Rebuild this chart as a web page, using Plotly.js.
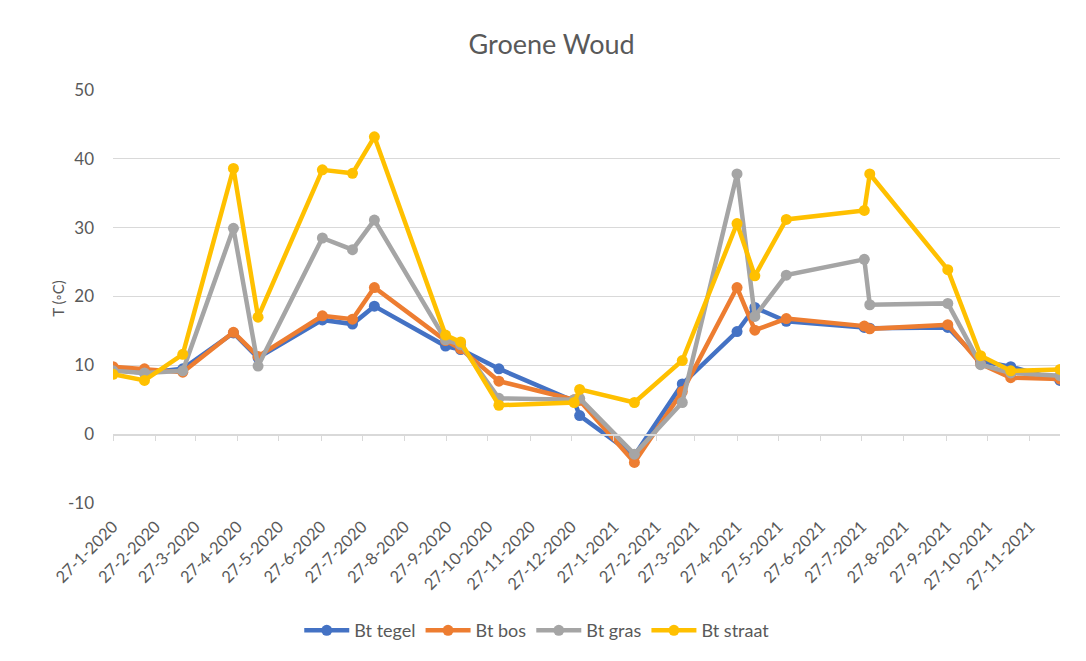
<!DOCTYPE html>
<html>
<head>
<meta charset="utf-8">
<script src="https://cdn.plot.ly/plotly-3.0.1.min.js"></script>
<style>
  html, body { margin: 0; padding: 0; background: #fff; }
  #plot { width: 1086px; height: 661px; }
</style>
</head>
<body>
<div id="plot"></div>
<script>
/* measurement dates */
var dates = ["2020-01-27", "2020-02-19", "2020-03-18", "2020-04-24", "2020-05-12",
             "2020-06-28", "2020-07-20", "2020-08-05", "2020-09-26", "2020-10-07",
             "2020-11-04", "2020-12-29", "2021-01-02", "2021-02-11", "2021-03-18",
             "2021-04-27", "2021-05-10", "2021-06-02", "2021-07-29", "2021-08-02",
             "2021-09-28", "2021-10-22", "2021-11-13", "2021-12-19"];

var tegel  = [9.4, 8.9, 9.5, 14.7, 11.1, 16.6, 16.0, 18.6, 12.8, 12.3, 9.5, 4.8,
              2.7, -3.1, 7.3, 14.9, 18.4, 16.4, 15.5, 15.4, 15.5, 10.6, 9.8, 7.8];
var bos    = [9.8, 9.5, 9.0, 14.8, 11.3, 17.2, 16.7, 21.3, 13.6, 12.4, 7.7, 5.0,
              4.9, -4.1, 6.2, 21.3, 15.1, 16.8, 15.7, 15.3, 15.9, 10.2, 8.2, 8.0];
var gras   = [9.2, 8.9, 9.2, 29.9, 9.9, 28.5, 26.8, 31.1, 13.7, 13.0, 5.2, 5.0,
              5.2, -2.9, 4.6, 37.8, 17.1, 23.1, 25.4, 18.8, 19.0, 10.1, 8.9, 8.5];
var straat = [8.7, 7.8, 11.6, 38.6, 17.0, 38.4, 37.9, 43.2, 14.4, 13.4, 4.2, 4.6,
              6.5, 4.6, 10.7, 30.6, 23.0, 31.2, 32.5, 37.8, 23.9, 11.4, 9.2, 9.4];

/* monthly ticks on the 27th */
var tickDates = ["2020-01-27", "2020-02-27", "2020-03-27", "2020-04-27", "2020-05-27",
                 "2020-06-27", "2020-07-27", "2020-08-27", "2020-09-27", "2020-10-27",
                 "2020-11-27", "2020-12-27", "2021-01-27", "2021-02-27", "2021-03-27",
                 "2021-04-27", "2021-05-27", "2021-06-27", "2021-07-27", "2021-08-27",
                 "2021-09-27", "2021-10-27", "2021-11-27"];
var tickLabels = ["27-1-2020", "27-2-2020", "27-3-2020", "27-4-2020", "27-5-2020",
                  "27-6-2020", "27-7-2020", "27-8-2020", "27-9-2020", "27-10-2020",
                  "27-11-2020", "27-12-2020", "27-1-2021", "27-2-2021", "27-3-2021",
                  "27-4-2021", "27-5-2021", "27-6-2021", "27-7-2021", "27-8-2021",
                  "27-9-2021", "27-10-2021", "27-11-2021"];

var yTicks  = [-10, 0, 10, 20, 30, 40, 50];
var yLabels = ["-10", "0", "10", "20", "30", "40", "50"];

var names  = ["Bt tegel", "Bt bos", "Bt gras", "Bt straat"];
var colors = ["#4472C4", "#ED7D31", "#A5A5A5", "#FFC000"];
var series = [tegel, bos, gras, straat];

var font = "Lato, 'Liberation Sans', sans-serif";
var grey = "#595959";

function makeTrace(i)
{
  return {
    x: dates,
    y: series[i],
    name: names[i],
    type: "scatter",
    mode: "lines+markers",
    line: { color: colors[i], width: 4.5 },
    marker: { color: colors[i], size: 11 }
  };
}

/* invisible trace so the zero-line axis (ticks at y = 0) gets drawn */
var helper = {
  x: dates,
  y: tegel,
  xaxis: "x2",
  yaxis: "y",
  mode: "markers",
  marker: { opacity: 0 },
  showlegend: false,
  hoverinfo: "skip"
};

var data = [helper, makeTrace(0), makeTrace(1), makeTrace(2), makeTrace(3)];

var layout = {
  width: 1086,
  height: 661,
  margin: { l: 113, r: 26, t: 90, b: 156 },
  paper_bgcolor: "#ffffff",
  plot_bgcolor: "#ffffff",
  font: { family: font, color: grey, size: 14 },
  title: {
    text: "Groene Woud",
    font: { family: font, size: 27, color: grey },
    x: 0.508,
    xanchor: "center",
    y: 0.932,
    yanchor: "middle"
  },
  xaxis: {
    type: "date",
    range: ["2020-01-27", "2021-12-19"],
    tickmode: "array",
    tickvals: tickDates,
    ticktext: tickLabels,
    tickangle: -45,
    tickfont: { family: font, size: 16.5, color: grey },
    ticks: "",
    ticklabelstandoff: 10,
    showgrid: false,
    showline: false,
    zeroline: false,
    fixedrange: true
  },
  xaxis2: {
    type: "date",
    overlaying: "x",
    matches: "x",
    anchor: "free",
    position: 1 / 6,
    side: "bottom",
    tickmode: "array",
    tickvals: tickDates,
    showticklabels: false,
    showgrid: false,
    zeroline: false,
    showline: true,
    linecolor: "#d9d9d9",
    linewidth: 1.5,
    ticks: "outside",
    ticklen: 5,
    tickwidth: 1,
    tickcolor: "#d9d9d9"
  },
  yaxis: {
    range: [-10, 50],
    tickmode: "array",
    tickvals: yTicks,
    ticktext: yLabels,
    tickfont: { family: font, size: 17, color: grey },
    showgrid: true,
    gridcolor: "#d9d9d9",
    gridwidth: 1.3,
    zeroline: false,
    showline: false,
    ticks: "",
    ticklabelstandoff: 18,
    fixedrange: true
  },
  annotations: [{
    text: "T (◦C)",
    xref: "paper",
    yref: "paper",
    x: -0.059,
    y: 0.495,
    xanchor: "center",
    yanchor: "middle",
    textangle: -90,
    showarrow: false,
    font: { family: font, size: 15, color: grey }
  }],
  legend: {
    orientation: "h",
    x: 0.448,
    xanchor: "center",
    y: -0.309,
    yanchor: "middle",
    font: { family: font, size: 18, color: grey },
    itemwidth: 45
  },
  showlegend: true
};

Plotly.newPlot("plot", data, layout, { displayModeBar: false, staticPlot: true });
</script>
</body>
</html>
